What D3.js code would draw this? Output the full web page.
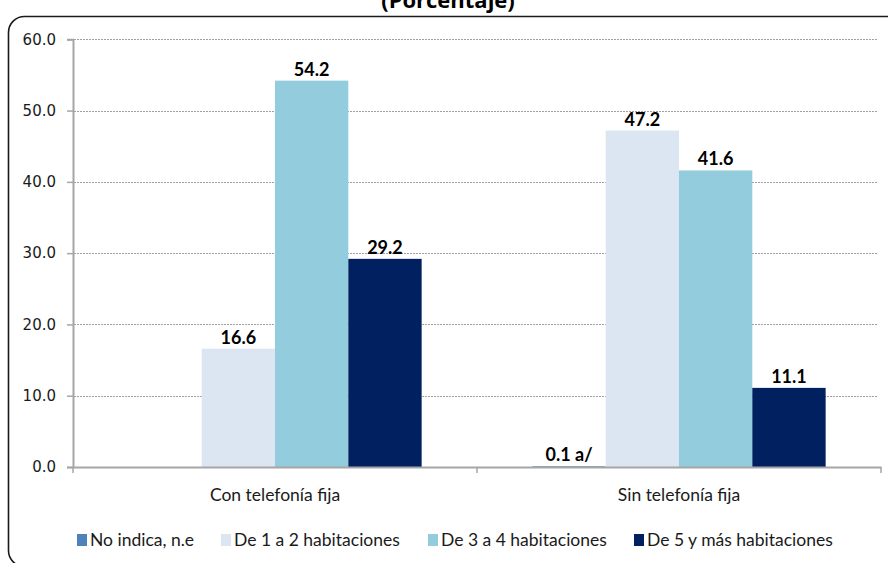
<!DOCTYPE html>
<html>
<head>
<meta charset="utf-8">
<script src="https://cdn.jsdelivr.net/npm/d3@7"></script>
<style>
  html, body { margin: 0; padding: 0; background: #fff; }
  svg { display: block; }
</style>
</head>
<body>
<svg id="chart" width="888" height="563"></svg>
<script>
// Viviendas según disponibilidad de telefonía fija y número de habitaciones
const categories = ["Con telefonía fija", "Sin telefonía fija"];
const seriesNames = ["No indica, n.e", "De 1 a 2 habitaciones", "De 3 a 4 habitaciones", "De 5 y más habitaciones"];
const noIndica = [null, 0.1];
const hab1a2 = [16.6, 47.2];
const hab3a4 = [54.2, 41.6];
const hab5mas = [29.2, 11.1];
const valueLabels = [[null, "16.6", "54.2", "29.2"], ["0.1 a/", "47.2", "41.6", "11.1"]];
const yTicks = [0, 10, 20, 30, 40, 50, 60];
const seriesColors = ["#4F81BD", "#DCE6F2", "#93CDDD", "#002060"];

const seriesValues = [noIndica, hab1a2, hab3a4, hab5mas];

const svg = d3.select("#chart");

// chart frame (rounded, extends past the right edge)
svg.append("rect")
  .attr("x", 8.5).attr("y", 16.5)
  .attr("width", 960).attr("height", 550)
  .attr("rx", 16).attr("ry", 16)
  .attr("fill", "none")
  .attr("stroke", "#1a1a1a")
  .attr("stroke-width", 1.6);

// title (partly above the top edge)
svg.append("text")
  .attr("x", 448).attr("y", 8)
  .attr("text-anchor", "middle")
  .attr("font-family", "'Open Sans', sans-serif")
  .attr("font-weight", "bold")
  .attr("font-size", 22)
  .attr("fill", "#000")
  .text("(Porcentaje)");

const plotLeft = 73, plotRight = 881, plotTop = 39.3, plotBottom = 467;

const x0 = d3.scaleBand().domain(categories).range([plotLeft, plotRight]).paddingInner(0).paddingOuter(0);
const x1 = d3.scaleBand().domain(seriesNames).range([0, x0.bandwidth()]).paddingInner(0).paddingOuter(0.755);
const y = d3.scaleLinear().domain([0, 60]).range([plotBottom, plotTop]);

// horizontal dotted gridlines
svg.append("g")
  .selectAll("line")
  .data(yTicks.filter(t => t > 0))
  .join("line")
  .attr("x1", plotLeft + 1).attr("x2", plotRight - 3)
  .attr("y1", d => Math.round(y(d)) + 0.5).attr("y2", d => Math.round(y(d)) + 0.5)
  .attr("stroke", "#a0a0a0")
  .attr("stroke-width", 1)
  .attr("stroke-dasharray", "2,1");

// bars
const groups = svg.append("g")
  .selectAll("g")
  .data(categories)
  .join("g")
  .attr("transform", d => `translate(${x0(d)},0)`);

groups.selectAll("rect")
  .data((c, ci) => seriesNames.map((s, si) => ({ s, si, ci, v: seriesValues[si][ci] })).filter(d => d.v != null))
  .join("rect")
  .attr("x", d => x1(d.s))
  .attr("width", x1.bandwidth())
  .attr("y", d => y(d.v))
  .attr("height", d => Math.max(y(0) - y(d.v), 0))
  .attr("fill", d => seriesColors[d.si]);

// value labels
groups.selectAll("text")
  .data((c, ci) => seriesNames.map((s, si) => ({ s, si, ci, v: seriesValues[si][ci], label: valueLabels[ci][si] })).filter(d => d.v != null))
  .join("text")
  .attr("x", d => x1(d.s) + x1.bandwidth() / 2)
  .attr("y", d => y(d.v) - 5)
  .attr("text-anchor", "middle")
  .attr("font-family", "Lato, sans-serif")
  .attr("font-weight", "bold")
  .attr("font-size", 18)
  .attr("fill", "#000")
  .text(d => d.label);

// y axis
const yAxis = d3.axisLeft(y).tickValues(yTicks).tickSize(6).tickPadding(11).tickFormat(d3.format(".1f"));
const gy = svg.append("g").attr("transform", `translate(${plotLeft},0)`).call(yAxis);
gy.select(".domain").attr("stroke", "#a6a6a6").attr("stroke-width", 2);
gy.selectAll(".tick line").attr("stroke", "#a6a6a6").attr("stroke-width", 1.5);
gy.selectAll(".tick text")
  .attr("font-family", "'DejaVu Sans', sans-serif")
  .attr("font-size", 15)
  .attr("fill", "#1a1a1a");

// x axis
const xAxis = d3.axisBottom(x0).tickSize(0).tickPadding(22);
const gx = svg.append("g").attr("transform", `translate(0,${plotBottom})`).call(xAxis);
gx.select(".domain").attr("stroke", "#a6a6a6").attr("stroke-width", 2);
gx.selectAll(".tick text")
  .attr("font-family", "Lato, sans-serif")
  .attr("font-size", 17.5)
  .attr("fill", "#1a1a1a");

// category separators below the axis
svg.append("g")
  .selectAll("line")
  .data([plotLeft, x0(categories[1]), plotRight])
  .join("line")
  .attr("x1", d => d).attr("x2", d => d)
  .attr("y1", plotBottom).attr("y2", plotBottom + 6)
  .attr("stroke", "#a6a6a6")
  .attr("stroke-width", 1.5);

// legend
const legendX = [77, 221, 428, 634];
const legend = svg.append("g")
  .selectAll("g")
  .data(seriesNames)
  .join("g")
  .attr("transform", (d, i) => `translate(${legendX[i]},534)`);
legend.append("rect")
  .attr("width", 10).attr("height", 12)
  .attr("fill", (d, i) => seriesColors[i]);
legend.append("text")
  .attr("x", 13).attr("y", 11.5)
  .attr("font-family", "Lato, sans-serif")
  .attr("font-size", 17.5)
  .attr("fill", "#1a1a1a")
  .text(d => d);
</script>
</body>
</html>
